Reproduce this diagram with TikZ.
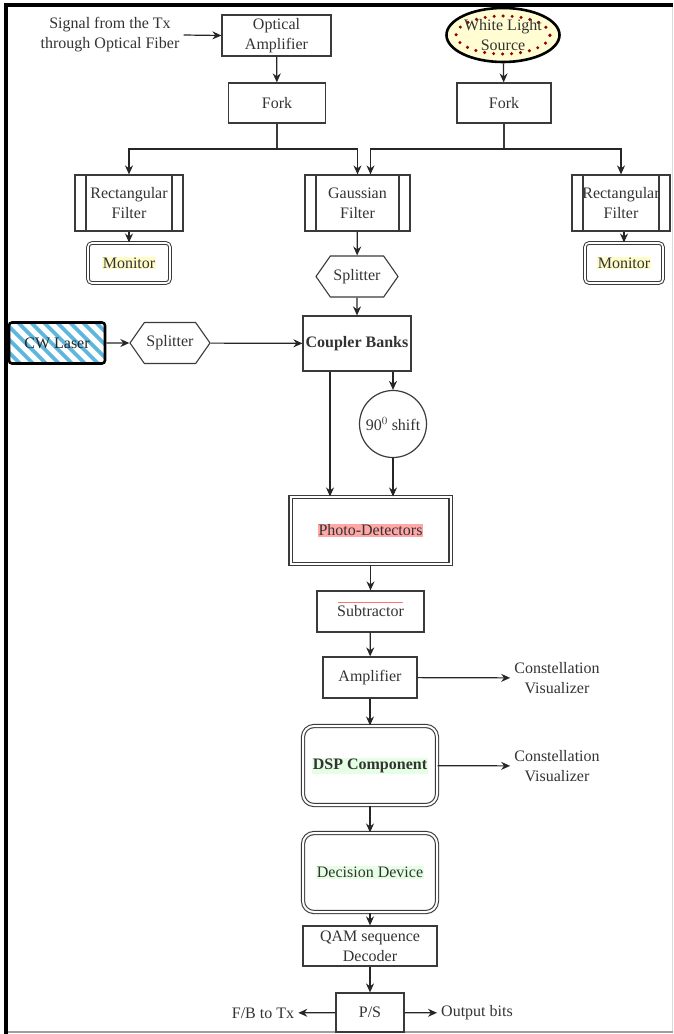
\documentclass[tikz,border=0pt]{standalone}
\usepackage{fontspec}
\setmainfont{Liberation Serif}
\usetikzlibrary{positioning,arrows.meta,shapes.geometric,shapes.symbols,calc}

\definecolor{lineGrey}{HTML}{3A3A3A}
\definecolor{stripeBlue}{HTML}{5CB6DE}
\newcommand{\hlbox}[2]{{\setlength{\fboxsep}{1pt}\colorbox{#1}{#2}}}

\begin{document}
\begin{tikzpicture}[
  x=1pt, y=-1pt,
  font=\fontsize{16}{20}\selectfont, >={Stealth[length=9pt,width=8pt]},
  every node/.style={text=black!80},
  box/.style={draw=lineGrey, line width=1.2pt, inner sep=0pt, align=center},
  filterBox/.style={box, minimum height=56,
    path picture={\draw[lineGrey, line width=1.2pt]
      ([xshift=11pt]path picture bounding box.north west) -- ([xshift=11pt]path picture bounding box.south west)
      ([xshift=-11pt]path picture bounding box.north east) -- ([xshift=-11pt]path picture bounding box.south east);}},
  monBox/.style={draw=lineGrey, double=white, double distance=1.6pt, line width=1pt,
    rounded corners=4pt, minimum height=40, inner sep=0pt},
  bigBox/.style={draw=lineGrey, double=white, double distance=2pt, line width=1.1pt,
    rounded corners=11pt, minimum width=134, minimum height=79, inner sep=0pt},
  splitBox/.style={draw=lineGrey, line width=1.1pt, signal, signal to=east and west,
    signal pointer angle=110, minimum height=41, inner sep=0pt},
  label/.style={align=center, inner sep=4pt},
  arr/.style={->, line width=1.2pt, draw=black!85},
]
\useasboundingbox (0,0) rectangle (673,1034);

% frame
\draw[gray!30, line width=0.8pt] (672,5) -- (672,1032);
\draw[gray!75, line width=2pt] (6,1032) -- (673,1032);
\draw[black, line width=4pt] (6,1034) -- (6,5) -- (673,5);

% input side
\node[label] (sig) at (110,35) {Signal from the Tx\\through Optical Fiber};
\node[box, minimum width=109, minimum height=41] (oamp) at (276.5,35.5) {Optical\\Amplifier};
\node[box, minimum width=97, minimum height=40] (fork1) at (277,103) {Fork};
\node[draw=black, line width=2.6pt, fill=yellow!18, ellipse, minimum width=113,
      minimum height=54, inner sep=0pt, align=center] (wls) at (503,35) {};
\draw[red!60!black, line width=3.4pt, line cap=round, dash pattern=on 0pt off 9pt]
  (wls.center) ellipse (47pt and 19pt);
\node[label, inner sep=0pt] at (wls.center) {White Light\\Source};
\node[box, minimum width=94, minimum height=40] (fork2) at (504,103) {Fork};

% filters and monitors
\node[filterBox, minimum width=108] (rf1) at (129,203) {Rectangular\\Filter};
\node[filterBox, minimum width=105] (gf) at (357.5,203) {Gaussian\\Filter};
\node[filterBox, minimum width=98] (rf2) at (621,203) {Rectangular\\Filter};
\node[monBox, minimum width=82] (mon1) at (129,263) {\hlbox{yellow!22}{Monitor}};
\node[monBox, minimum width=78] (mon2) at (624,263) {\hlbox{yellow!22}{Monitor}};
\node[splitBox, minimum width=82] (spl1) at (357,276.5) {Splitter};

% local oscillator
\node[draw=black, line width=2.6pt, rounded corners=3pt, minimum width=96, minimum height=41,
      inner sep=0pt,
      path picture={\foreach \k in {-56,-43,...,110}
        \draw[stripeBlue, line width=3.6pt] ([xshift=\k pt]path picture bounding box.north west) -- ++(50pt,-50pt);}]
      (cw) at (57,343) {};
\node[label, inner sep=0pt, text=black!85] at (cw.center) {CW Laser};
\node[splitBox, minimum width=80] (spl2) at (170,343) {Splitter};
\node[box, minimum width=108, minimum height=55, font=\fontsize{16}{20}\selectfont\bfseries] (cpl) at (357,343.5) {Coupler Banks};
\node[box, circle, minimum size=67] (shift) at (393,424) {90$^0$ shift};

% detection chain
\node[box, double=white, double distance=2pt, line width=1.1pt, minimum width=160, minimum height=67] (pd) at (370.5,530.5) {\hlbox{red!35}{Photo-Detectors}};
\node[box, minimum width=107, minimum height=41] (sub) at (370.5,611.5) {Subtractor};
\draw[red!55, line width=0.6pt] ($(sub.center)+(-33,-9.5)$) -- ($(sub.center)+(32,-9.5)$);
\node[box, minimum width=94, minimum height=41] (amp) at (370,677.5) {Amplifier};
\node[label] (cv1) at (557,678) {Constellation\\Visualizer};
\node[bigBox] (dsp) at (370,765.5) {\hlbox{green!10}{\textbf{DSP Component}}};
\node[label] (cv2) at (557,766) {Constellation\\Visualizer};
\node[bigBox] (dec) at (370,872.5) {\hlbox{green!10}{Decision Device}};
\node[box, minimum width=134, minimum height=40] (qam) at (370,946) {QAM sequence\\Decoder};
\node[box, minimum width=68, minimum height=39] (ps) at (370,1012.5) {P/S};
\node[label] (fb) at (263,1013) {F/B to Tx};
\node[label] (out) at (477,1013) {Output bits};

% connectors
\coordinate (j1) at (277,149);
\coordinate (j2) at (504,149);
\draw[arr] (sig.east) -- (oamp.west);
\draw[arr] (oamp) -- (fork1);
\draw[arr] (wls) -- (fork2);
\draw[line width=1.2pt, draw=lineGrey] (fork1.south) -- (j1);
\draw[line width=1.2pt, draw=lineGrey] (fork2.south) -- (j2);
\draw[arr] (j1) -| (rf1.north);
\draw[arr] (j1) -| (gf.north);
\draw[arr] (j2) -| ([xshift=13]gf.north);
\draw[arr] (j2) -| (rf2.north);
\draw[arr] (rf1) -- (mon1);
\draw[arr] (rf2.south -| mon2.north) -- (mon2);
\draw[arr] (gf) -- (spl1);
\draw[arr] (spl1) -- (cpl);
\draw[arr] (cw) -- (spl2);
\draw[arr] (spl2) -- (cpl);
\draw[arr] ([xshift=-27]cpl.south) -- ([xshift=-27]cpl.south |- pd.north);
\draw[arr] (cpl.south -| shift.north) -- (shift.north);
\draw[arr] (shift.south) -- (shift.south |- pd.north);
\draw[arr] (pd) -- (sub);
\draw[arr] (sub) -- (amp);
\draw[arr] (amp) -- (cv1);
\draw[arr] (amp) -- (dsp);
\draw[arr] (dsp) -- (cv2);
\draw[arr] (dsp) -- (dec);
\draw[arr] (dec) -- (qam);
\draw[arr] (qam) -- (ps);
\draw[arr] (ps) -- (fb);
\draw[arr] (ps) -- (out);
\end{tikzpicture}
\end{document}
